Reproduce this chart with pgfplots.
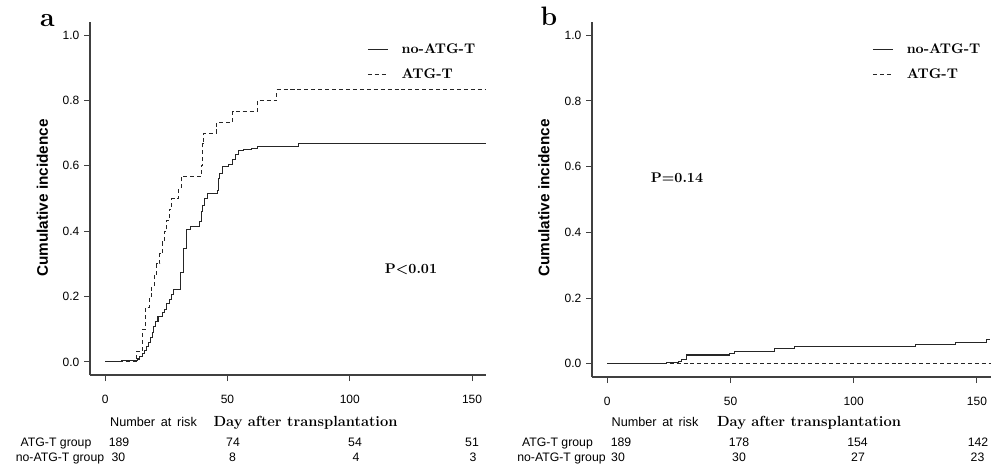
\documentclass[border=0pt]{standalone}
\usepackage{pgfplots}
\pgfplotsset{compat=1.18}
\usepackage{fontspec}
\setsansfont{Liberation Sans}

\pgfplotstableread{
day val
0 0
6.6 0.003
13.4 0.009
14.1 0.017
15.2 0.025
16.2 0.036
16.8 0.048
17.8 0.060
18.5 0.076
19.3 0.089
19.9 0.107
20.7 0.124
21.6 0.138
23.4 0.150
24.4 0.160
25.1 0.178
26.2 0.190
27.3 0.206
28.1 0.221
30.8 0.274
32.0 0.346
33.1 0.405
34.8 0.413
38.4 0.430
39.2 0.459
39.9 0.480
40.8 0.500
41.9 0.514
45.8 0.524
46.2 0.561
46.9 0.577
47.9 0.597
50.5 0.603
52.2 0.619
53.4 0.636
54.6 0.646
56.5 0.650
59.7 0.652
62.1 0.660
79.2 0.667
155.5 0.667
}\asolid

\pgfplotstableread{
day val
0 0
13.0 0.033
15.2 0.100
16.5 0.167
18.0 0.200
19.0 0.233
20.0 0.267
21.0 0.300
22.3 0.333
23.3 0.367
24.2 0.400
25.2 0.433
26.2 0.467
27.2 0.500
30.0 0.533
31.1 0.567
39.3 0.600
39.8 0.667
40.3 0.700
45.5 0.733
52.1 0.767
62.4 0.800
70.1 0.833
155.5 0.833
}\adashed

\pgfplotstableread{
day val
0 0
24.1 0.004
28.8 0.007
30.2 0.013
32.2 0.027
49.7 0.031
51.8 0.037
68.0 0.048
75.8 0.054
125.0 0.060
141.3 0.066
153.8 0.073
155.3 0.073
}\bsolid

\pgfplotstableread{
day val
0 0
155.5 0
}\bdashed

\begin{document}
\begin{tikzpicture}[x=0.75pt,y=0.75pt]
\useasboundingbox (0,0) rectangle (993,465);
\pgfplotsset{
  km/.style={
    scale only axis,
    axis lines*=left,
    axis line style={-, black!75, line width=0.9pt},
    xmin=-6.2, xmax=155.7, ymin=-0.04, ymax=1.04,
    xtick={0,50,100,150}, ytick={0,0.2,0.4,0.6,0.8,1.0},
    minor tick num=0,
    tick align=outside, major tick length=4.5pt,
    every tick/.style={black!75, line width=0.75pt},
    y tick label style={/pgf/number format/fixed, /pgf/number format/fixed zerofill, /pgf/number format/precision=1},
    x tick label style={yshift=-7pt},
    tick label style={font=\fontsize{9}{10}\selectfont\sffamily},
    /pgf/number format/assume math mode=true,
    legend style={draw=none, fill=none, inner sep=0pt, row sep=5.8pt, column sep=8pt,
      font=\fontsize{10.5}{12}\selectfont\bfseries, anchor=north west},
    legend cell align=left,
    legend image code/.code={\draw[#1] (0pt,0pt) -- (15pt,0pt);},
    clip=false,
  },
  solidkm/.style={const plot, black!85, line width=0.8pt},
  dashkm/.style={const plot, black!85, line width=0.8pt, dash pattern=on 3pt off 2.2pt},
}
\begin{axis}[km, at={(67.5pt,67.5pt)}, anchor=south west, width=297pt, height=264.75pt,
  legend style={at={(0.6995,0.9465)}}]
\addplot[solidkm] table[x=day,y=val] {\asolid};
\addlegendentry{no-ATG-T}
\addplot[dashkm] table[x=day,y=val] {\adashed};
\addlegendentry{ATG-T}
\end{axis}
\begin{axis}[km, at={(444pt,66pt)}, anchor=south west, width=299.25pt, height=266.25pt,
  legend style={at={(0.702,0.9465)}}]
\addplot[solidkm] table[x=day,y=val] {\bsolid};
\addlegendentry{no-ATG-T}
\addplot[dashkm] table[x=day,y=val] {\bdashed};
\addlegendentry{ATG-T}
\end{axis}

\node[font=\fontsize{20}{22}\selectfont\bfseries, anchor=base] at (47.5,438) {a};
\node[font=\fontsize{20}{22}\selectfont\bfseries, anchor=base] at (549,439) {b};

\node[rotate=90, font=\fontsize{11.5}{13}\selectfont\sffamily\bfseries] at (42.5,267) {Cumulative incidence};
\node[rotate=90, font=\fontsize{11.5}{13}\selectfont\sffamily\bfseries] at (544,267) {Cumulative incidence};

\node[font=\fontsize{10.5}{12}\selectfont\bfseries] at (411,196) {P<0.01};
\node[font=\fontsize{10.5}{12}\selectfont\bfseries] at (677,287) {P=0.14};

\begin{scope}[every node/.style={anchor=base, inner sep=0pt}]
\node[font=\fontsize{9.5}{10}\selectfont\sffamily] at (153.5,39) {Number\hspace{0.45em}at\hspace{0.45em}risk};
\node[font=\fontsize{11}{13}\selectfont\bfseries] at (305.5,39) {Day after transplantation};
\node[font=\fontsize{9.5}{10}\selectfont\sffamily] at (655,39) {Number\hspace{0.45em}at\hspace{0.45em}risk};
\node[font=\fontsize{11}{13}\selectfont\bfseries] at (809,39) {Day after transplantation};

\begin{scope}[font=\fontsize{9.2}{10}\selectfont\sffamily]
\node at (56,18.5) {ATG-T group};
\node at (60,3.7) {no-ATG-T group};
\node at (119,18.5) {189};
\node at (233,18.5) {74};
\node at (355,18.5) {54};
\node at (472,18.5) {51};
\node at (118.5,3.7) {30};
\node at (232.5,3.7) {8};
\node at (356,3.7) {4};
\node at (473,3.7) {3};

\node at (557.5,18.5) {ATG-T group};
\node at (561.5,3.7) {no-ATG-T group};
\node at (621,18.5) {189};
\node at (739,18.5) {178};
\node at (857.5,18.5) {154};
\node at (978,18.5) {142};
\node at (618,3.7) {30};
\node at (739,3.7) {30};
\node at (858,3.7) {27};
\node at (977.5,3.7) {23};
\end{scope}
\end{scope}
\end{tikzpicture}
\end{document}
